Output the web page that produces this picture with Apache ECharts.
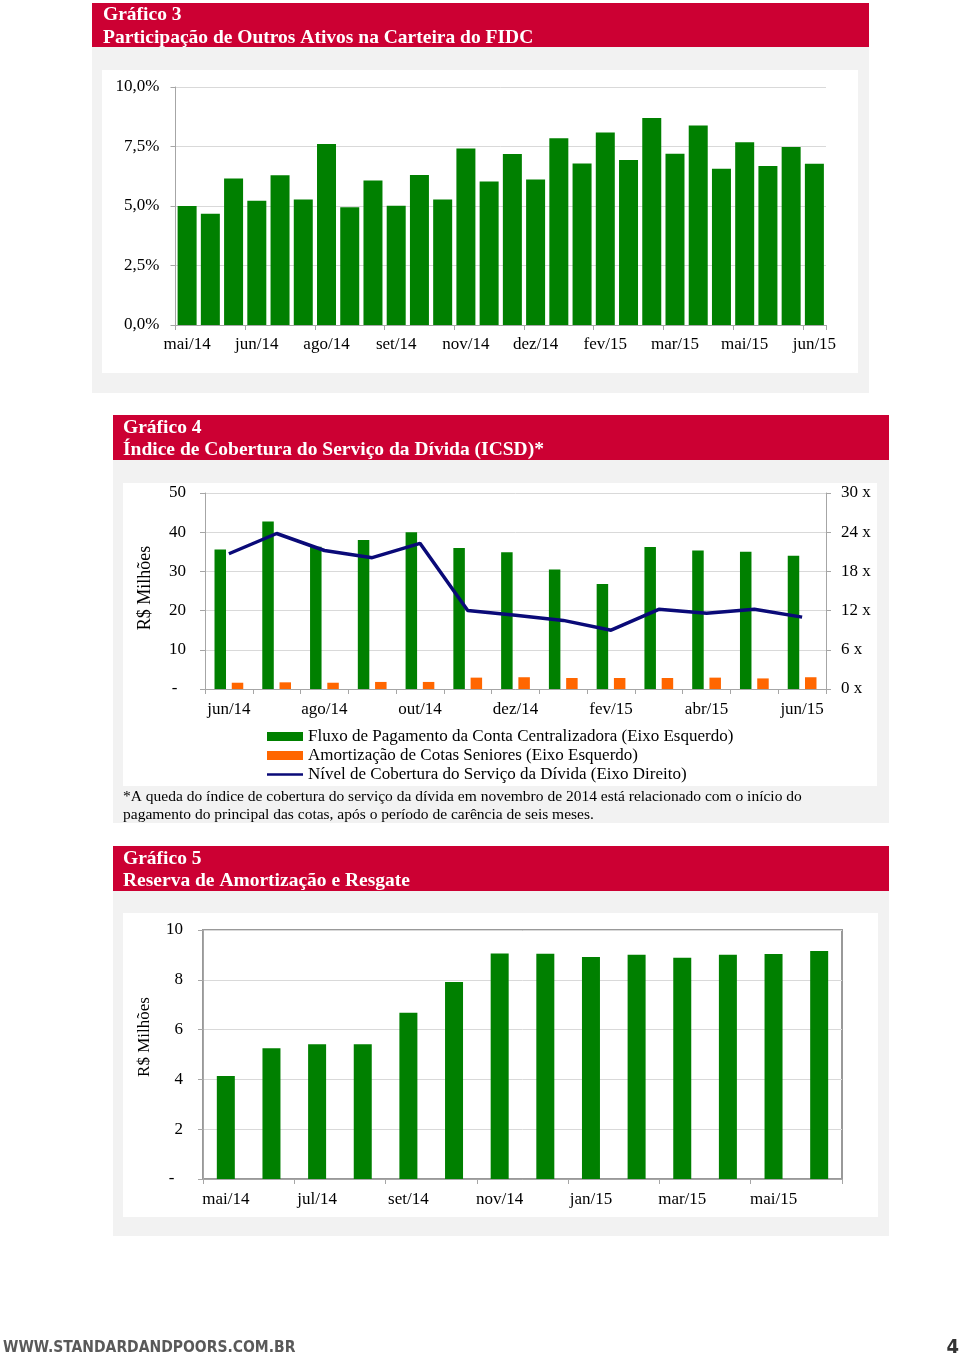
<!DOCTYPE html>
<html><head><meta charset="utf-8">
<script src="https://cdn.jsdelivr.net/npm/echarts@6/dist/echarts.min.js"></script>
<style>html,body{margin:0;padding:0;background:#fff}#c{width:960px;height:1358px}</style>
</head><body><div id="c"></div>
<script>
// ---- Gráfico 3 (two observations per month) ----
const g3Categories = ['mai/14','mai/14','jun/14','jun/14','jul/14','jul/14','ago/14','ago/14','set/14','set/14','out/14','out/14','nov/14','nov/14','dez/14','dez/14','jan/15','jan/15','fev/15','fev/15','mar/15','mar/15','abr/15','abr/15','mai/15','mai/15','jun/15','jun/15'];
const g3Values = [5.0,4.67,6.16,5.22,6.29,5.27,7.60,4.95,6.07,5.01,6.30,5.27,7.42,6.03,7.18,6.11,7.85,6.79,8.09,6.93,8.70,7.20,8.38,6.56,7.68,6.68,7.48,6.78];
const g3Ticks = [0, 2.5, 5, 7.5, 10];

// ---- Gráfico 4 ----
const g4Categories = ['jun/14','jul/14','ago/14','set/14','out/14','nov/14','dez/14','jan/15','fev/15','mar/15','abr/15','mai/15','jun/15'];
const g4Fluxo = [35.6,42.7,36.3,38.0,40.0,36.0,34.9,30.5,26.8,36.2,35.3,35.0,34.0];
const g4Amort = [1.6,1.7,1.6,1.8,1.8,2.9,3.0,2.8,2.8,2.8,2.9,2.7,3.0];
const g4ICSD = [20.7,23.8,21.2,20.1,22.3,12.0,11.3,10.5,9.0,12.2,11.6,12.2,11.0];
const g4LeftTicks = [0,10,20,30,40,50];
const g4RightTicks = [0,6,12,18,24,30];
const g4Names = ['Fluxo de Pagamento da Conta Centralizadora (Eixo Esquerdo)','Amortização de Cotas Seniores (Eixo Esquerdo)','Nível de Cobertura do Serviço da Dívida (Eixo Direito)'];

// ---- Gráfico 5 ----
const g5Categories = ['mai/14','jun/14','jul/14','ago/14','set/14','out/14','nov/14','dez/14','jan/15','fev/15','mar/15','abr/15','mai/15','jun/15'];
const g5Values = [4.14,5.25,5.41,5.41,6.68,7.91,9.06,9.05,8.92,9.01,8.89,9.01,9.04,9.16];
const g5Ticks = [0,2,4,6,8,10];

const SERIF = '"Liberation Serif","Times New Roman",serif';
const RED = '#CC0033', PANEL = '#F2F2F2', GREEN = '#008000', ORANGE = '#FF6600', NAVY = '#0A0A78';
const AXIS = '#A6A6A6', GRIDL = '#D9D9D9';
const lbl = {color:'#000', fontFamily:SERIF, fontSize:17};
// thin horizontal line icon inside a 36x9 box (tiny corner marks fix the box size)
const LINE_ICON = 'path://M0,0L0.01,0L0,0.01Z M0,3.2L36,3.2L36,5.8L0,5.8Z M36,9L35.99,9L36,8.99Z';

function rect(x,y,w,h,fill){return {type:'rect',z:-10,shape:{x,y,width:w,height:h},style:{fill}};}
function txt(t,x,y,font,fill,extra){return Object.assign({type:'text',z:50,x,y,style:{text:t,font,fill,textAlign:'left',textVerticalAlign:'middle'}},extra||{});}
const HFONT = 'bold 19.5px ' + SERIF;

function valAxis(grid, ticks, fmt, margin, extra){
  return Object.assign({
    type:'value', gridIndex:grid, min:ticks[0], max:ticks[ticks.length-1], interval:ticks[1]-ticks[0],
    axisLine:{show:true, lineStyle:{color:AXIS}},
    axisTick:{show:true, length:5, lineStyle:{color:AXIS}},
    splitLine:{show:true, lineStyle:{color:GRIDL}},
    axisLabel:Object.assign({formatter:fmt, margin}, lbl)
  }, extra||{});
}
function catAxis(grid, data, tickEvery, labelEvery, margin){
  return {
    type:'category', gridIndex:grid, data,
    axisLine:{show:true, lineStyle:{color:AXIS}},
    axisTick:{show:true, interval:tickEvery-1, length:5, lineStyle:{color:AXIS}},
    axisLabel:Object.assign({interval:labelEvery-1, margin}, lbl)
  };
}
const dash = v => v === 0 ? '-  ' : String(v);

const option = {
  animation:false,
  backgroundColor:'#fff',
  graphic:[
    rect(92,3,777,44,RED), rect(92,47,777,346,PANEL), rect(102,70,756,303,'#fff'),
    rect(113,415,776,45,RED), rect(113,460,776,363,PANEL), rect(123,483,754,303,'#fff'),
    rect(113,846,776,45,RED), rect(113,891,776,345,PANEL), rect(123,913,755,304,'#fff'),
    txt('Gráfico 3',103,15,HFONT,'#fff'),
    txt('Participação de Outros Ativos na Carteira do FIDC',103,38,HFONT,'#fff'),
    txt('Gráfico 4',123,428,HFONT,'#fff'),
    txt('Índice de Cobertura do Serviço da Dívida (ICSD)*',123,450,HFONT,'#fff'),
    txt('Gráfico 5',123,859,HFONT,'#fff'),
    txt('Reserva de Amortização e Resgate',123,881,HFONT,'#fff'),
    {type:'text',z:50,x:145,y:588,rotation:Math.PI/2,style:{text:'R$ Milhões',font:'18px '+SERIF,fill:'#000',textAlign:'center',textVerticalAlign:'middle'}},
    {type:'text',z:50,x:145,y:1037,rotation:Math.PI/2,style:{text:'R$ Milhões',font:'17px '+SERIF,fill:'#000',textAlign:'center',textVerticalAlign:'middle'}},
    txt('*A queda do índice de cobertura do serviço da dívida em novembro de 2014 está relacionado com o início do',123,797,'15.5px '+SERIF,'#000'),
    txt('pagamento do principal das cotas, após o período de carência de seis meses.',123,815,'15.5px '+SERIF,'#000'),
    txt('WWW.STANDARDANDPOORS.COM.BR',3,1348,'bold 15.5px "DejaVu Sans Condensed","Liberation Sans Narrow",sans-serif','#595959'),
    {type:'text',z:50,x:959,y:1348,style:{text:'4',font:'bold 20px "DejaVu Sans Condensed",sans-serif',fill:'#333',textAlign:'right',textVerticalAlign:'middle'}}
  ],
  grid:[
    {left:175.5, top:87, width:650.5, height:238},
    {left:205, top:493, width:621, height:196},
    {left:203, top:930, width:639, height:249, show:true, borderColor:'#999', borderWidth:2, backgroundColor:'transparent'}
  ],
  legend:{
    left:267, top:727, padding:0, orient:'vertical', itemWidth:36, itemHeight:9, itemGap:0,
    textStyle:{color:'#000', fontFamily:SERIF, fontSize:17, lineHeight:19},
    data:[{name:g4Names[0],icon:'rect'},{name:g4Names[1],icon:'rect'},{name:g4Names[2],icon:LINE_ICON, itemStyle:{color:NAVY}}]
  },
  xAxis:[
    catAxis(0, g3Categories, 3, 3, 11),
    catAxis(1, g4Categories, 1, 2, 12),
    catAxis(2, g5Categories, 2, 2, 12)
  ],
  yAxis:[
    valAxis(0, g3Ticks, v => v.toFixed(1).replace('.',',') + '%', 16),
    valAxis(1, g4LeftTicks, dash, 19),
    valAxis(1, g4RightTicks, v => v + ' x', 15, {position:'right', splitLine:{show:false}}),
    valAxis(2, g5Ticks, dash, 20)
  ],
  series:[
    {type:'bar', xAxisIndex:0, yAxisIndex:0, data:g3Values, barWidth:19, itemStyle:{color:GREEN}},
    {type:'bar', name:g4Names[0], xAxisIndex:1, yAxisIndex:1, data:g4Fluxo, barWidth:11.5, barGap:'50%', itemStyle:{color:GREEN}},
    {type:'bar', name:g4Names[1], xAxisIndex:1, yAxisIndex:1, data:g4Amort, barWidth:11.5, barGap:'50%', itemStyle:{color:ORANGE}},
    {type:'line', name:g4Names[2], xAxisIndex:1, yAxisIndex:2, data:g4ICSD, symbol:'none', lineStyle:{color:NAVY, width:3.5}, itemStyle:{color:NAVY}, z:5},
    {type:'bar', xAxisIndex:2, yAxisIndex:3, data:g5Values, barWidth:18, itemStyle:{color:GREEN}}
  ]
};
const chart = echarts.init(document.getElementById('c'), null, {renderer:'canvas'});
chart.setOption(option);
</script>
</body></html>
